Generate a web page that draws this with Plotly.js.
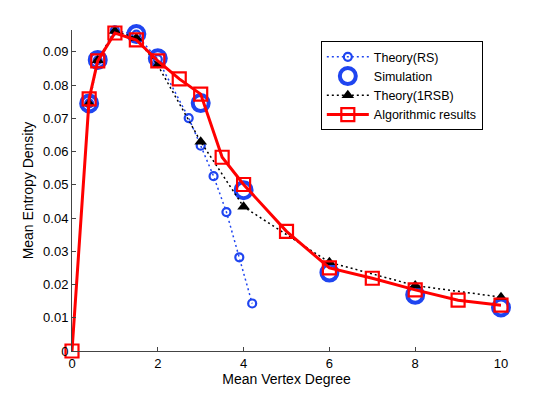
<!DOCTYPE html>
<html>
<head>
<meta charset="utf-8">
<script src="https://cdn.plot.ly/plotly-3.0.1.min.js"></script>
<style>
  html, body { margin: 0; padding: 0; background: #fff; }
  #graph_container { width: 554px; height: 395px; }
</style>
</head>
<body>
<div id="graph_container"></div>
<script>
// mean vertex degree values for each series
var rs_x = [0.4, 0.6, 1, 1.5, 2, 2.72, 3, 3.3, 3.6, 3.9, 4.2];
var rs_y = [0.0745, 0.0875, 0.0965, 0.0952, 0.0878, 0.0701, 0.0618, 0.0526, 0.0418, 0.0282, 0.0143];

var sim_x = [0.4, 0.6, 1, 1.5, 2, 3, 4, 6, 8, 10];
var sim_y = [0.0745, 0.0876, 0.0968, 0.0954, 0.0881, 0.0746, 0.0484, 0.0236, 0.0169, 0.0131];

var rsb_x = [0.4, 0.6, 1, 1.5, 2, 3, 4, 6, 8, 10];
var rsb_y = [0.0745, 0.0875, 0.0963, 0.0942, 0.0860, 0.0630, 0.0434, 0.0267, 0.0197, 0.0162];

var algo_x = [0, 0.4, 0.6, 1, 1.5, 2, 2.5, 3, 3.5, 4, 5, 6, 7, 8, 9, 10];
var algo_y = [0, 0.0759, 0.0873, 0.0957, 0.0936, 0.0873, 0.0819, 0.0773, 0.0583, 0.0501, 0.0360, 0.0250, 0.0219, 0.0184, 0.0153, 0.0138];

var blue = '#1f45f0';

var theory_rs = {
    x: rs_x,
    y: rs_y,
    type: 'scatter',
    mode: 'lines+markers',
    name: 'Theory(RS)',
    cliponaxis: false,
    line: {color: blue, width: 1.5, dash: '2px,3px'},
    marker: {symbol: 'circle-open', size: 8, color: blue, line: {width: 2.2, color: blue}}
};

var simulation = {
    x: sim_x,
    y: sim_y,
    type: 'scatter',
    mode: 'markers',
    name: 'Simulation',
    cliponaxis: false,
    marker: {symbol: 'circle-open', size: 16, color: blue, line: {width: 4, color: blue}}
};

var theory_rsb = {
    x: rsb_x,
    y: rsb_y,
    type: 'scatter',
    mode: 'lines+markers',
    name: 'Theory(1RSB)',
    cliponaxis: false,
    line: {color: '#000', width: 1.5, dash: '2px,3px'},
    marker: {symbol: 'triangle-up', size: 11, color: '#000'}
};

var algorithmic = {
    x: algo_x,
    y: algo_y,
    type: 'scatter',
    mode: 'lines+markers',
    name: 'Algorithmic results',
    cliponaxis: false,
    line: {color: '#ff0000', width: 3},
    marker: {symbol: 'square-open', size: 13, color: '#ff0000', line: {width: 2.2, color: '#ff0000'}}
};

var layout = {
    width: 554,
    height: 395,
    margin: {l: 72, r: 53, t: 30, b: 44},
    paper_bgcolor: '#fff',
    plot_bgcolor: '#fff',
    font: {family: '"Liberation Sans", Arial, sans-serif', size: 13, color: '#000'},
    showlegend: true,
    legend: {
        x: 0.58, y: 0.965, xanchor: 'left', yanchor: 'top',
        bgcolor: '#fff', bordercolor: '#000', borderwidth: 1,
        font: {size: 12.5}, itemwidth: 42, tracegroupgap: 0
    },
    xaxis: {
        title: {text: 'Mean Vertex Degree', font: {size: 14}, standoff: 4},
        range: [0, 10],
        tickvals: [0, 2, 4, 6, 8, 10],
        ticks: 'inside', ticklen: 4, tickcolor: '#444',
        showgrid: false, zeroline: false,
        showline: true, linecolor: '#444', linewidth: 1
    },
    yaxis: {
        title: {text: 'Mean Entropy Density', font: {size: 14}, standoff: 6},
        range: [0, 0.0966],
        tickvals: [0, 0.01, 0.02, 0.03, 0.04, 0.05, 0.06, 0.07, 0.08, 0.09],
        ticktext: ['0', '0.01', '0.02', '0.03', '0.04', '0.05', '0.06', '0.07', '0.08', '0.09'],
        ticks: 'inside', ticklen: 4, tickcolor: '#444',
        showgrid: false, zeroline: false,
        showline: true, linecolor: '#444', linewidth: 1
    }
};

Plotly.newPlot('graph_container', [theory_rs, simulation, theory_rsb, algorithmic], layout, {displayModeBar: false});
</script>
</body>
</html>
